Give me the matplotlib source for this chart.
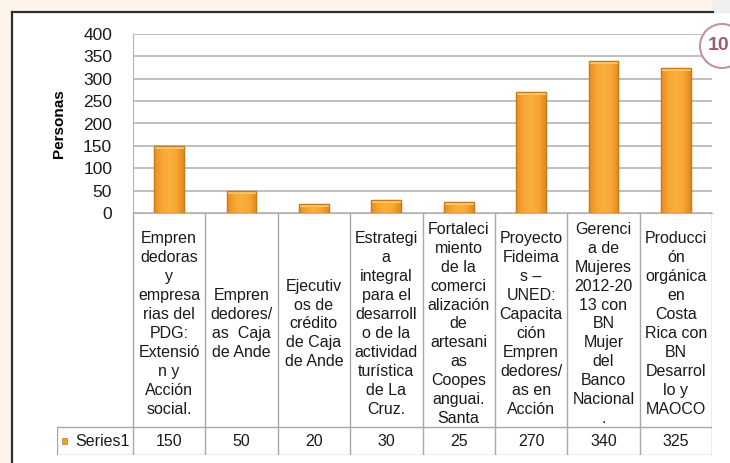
import numpy as np
import matplotlib
matplotlib.use("Agg")
import matplotlib.pyplot as plt
from matplotlib.colors import LinearSegmentedColormap
from matplotlib.patches import Rectangle, Circle

plt.rcParams['font.family'] = ['Liberation Sans', 'DejaVu Sans']

# data
categories = [
    "Empren\ndedoras\ny\nempresa\nrias del\nPDG:\nExtensió\nn y\nAcción\nsocial.",
    "Empren\ndedores/\nas  Caja\nde Ande",
    "Ejecutiv\nos de\ncrédito\nde Caja\nde Ande",
    "Estrategi\na\nintegral\npara el\ndesarroll\no de la\nactividad\nturística\nde La\nCruz.",
    "Fortaleci\nmiento\nde la\ncomerci\nalización\nde\nartesani\nas\nCoopes\nanguai.\nSanta",
    "Proyecto\nFideima\ns –\nUNED:\nCapacita\nción\nEmpren\ndedores/\nas en\nAcción",
    "Gerenci\na de\nMujeres\n2012-20\n13 con\nBN\nMujer\ndel\nBanco\nNacional\n.",
    "Producci\nón\norgánica\nen\nCosta\nRica con\nBN\nDesarrol\nlo y\nMAOCO",
]
values = [150, 50, 20, 30, 25, 270, 340, 325]
series_name = "Series1"
y_ticks = [0, 50, 100, 150, 200, 250, 300, 350, 400]
y_label = "Personas"
badge = "10"

W, H = 730, 463
fig = plt.figure(figsize=(W / 100, H / 100), dpi=100)
fig.patch.set_facecolor("white")

def fx(px):
    return px / W

def fy(py):
    return 1 - py / H

# page frame
cream = "#fdf4e9"
fig.add_artist(Rectangle((0, fy(12)), fx(713), 12 / H, transform=fig.transFigure, color=cream, zorder=0))
fig.add_artist(Rectangle((fx(713), fy(12)), 1, 12 / H, transform=fig.transFigure, color="#f1eef1", zorder=0))
fig.add_artist(Rectangle((0, 0), fx(12), fy(12), transform=fig.transFigure, color=cream, zorder=0))
fig.add_artist(plt.Line2D([fx(12), fx(713)], [fy(12), fy(12)], transform=fig.transFigure, color="#2e2e2e", lw=1.6))
fig.add_artist(plt.Line2D([fx(12), fx(12)], [fy(12), 0], transform=fig.transFigure, color="#2e2e2e", lw=1.6))

# chart area
left, right, top, bottom = 133, 712, 34, 213
ax = fig.add_axes([fx(left), fy(bottom), (right - left) / W, (bottom - top) / H])
n = len(values)
x = np.arange(n)
grid_c = "#b4b4b4"
ax.set_xlim(-0.5, n - 0.5)
ax.set_ylim(0, 400)
ax.set_yticks(y_ticks)
ax.yaxis.grid(True, color=grid_c, lw=1.2)
ax.set_axisbelow(True)
ax.set_xticks([])
for s in ["top", "right"]:
    ax.spines[s].set_visible(False)
ax.spines["left"].set_color(grid_c)
ax.spines["bottom"].set_color(grid_c)
ax.tick_params(axis="y", length=0, pad=15, labelsize=12.5, labelcolor="#1a1a1a")
ax.set_ylabel(y_label, fontsize=11, fontweight="bold", labelpad=12)

bars = ax.bar(x, values, width=0.41, color="#f5a232", edgecolor="#c67a20", lw=0.9, zorder=2)
cmap = LinearSegmentedColormap.from_list("bar", ["#e88e22", "#f7a634", "#fab040", "#f7a634", "#e3891f"])
grad = np.linspace(0, 1, 64).reshape(1, -1)
for b in bars:
    x0, w, h = b.get_x(), b.get_width(), b.get_height()
    im = ax.imshow(grad, cmap=cmap, extent=(x0, x0 + w, 0, h), aspect="auto", zorder=2.5)
    im.set_clip_path(b)
    cap = min(7, h * 0.3)
    ax.bar(b.get_x() + w / 2, cap, bottom=h - cap, width=w, color="#fcc862", lw=0, zorder=3)
    ax.add_patch(Rectangle((x0, 0), w, h, fill=False, edgecolor="#c67a20", lw=0.9, zorder=3.5))
ax.set_xlim(-0.5, n - 0.5)
ax.set_ylim(0, 400)

# data table below
t_left, t_bottom, row_mid = 57, 455, 427
unit = (right - left) / n
tax = fig.add_axes([fx(t_left), fy(t_bottom), (right - t_left) / W, (t_bottom - bottom) / H])
tax.set_xlim(-0.5 - (left - t_left) / unit, n - 0.5)
tax.set_ylim(t_bottom, bottom)
tax.axis("off")
line_c = "#a8a8a8"
x_first = -0.5 - (left - t_left) / unit
for i in range(n + 1):
    tax.plot([i - 0.5, i - 0.5], [bottom, t_bottom], color=line_c, lw=1)
tax.plot([x_first, n - 0.5], [row_mid, row_mid], color=line_c, lw=1)
tax.plot([x_first, n - 0.5], [t_bottom, t_bottom], color=line_c, lw=1)
tax.plot([x_first, x_first], [row_mid, t_bottom], color=line_c, lw=1)

for i, (c, v) in enumerate(zip(categories, values)):
    tax.text(i, (bottom + row_mid) / 2 + 4, c, ha="center", va="center", fontsize=11.5,
             linespacing=1.33, color="#1a1a1a")
    tax.text(i, (row_mid + t_bottom) / 2, str(v), ha="center", va="center", fontsize=11.5, color="#1a1a1a")

sq = 5 / unit
tax.add_patch(Rectangle((x_first + 5 / unit, (row_mid + t_bottom) / 2 - 3), sq, 6,
                        facecolor="#f0a030", edgecolor="#c67a20", lw=0.5))
tax.text(x_first + 18 / unit, (row_mid + t_bottom) / 2, series_name, ha="left", va="center",
         fontsize=11.5, color="#1a1a1a")

# page badge (pixel units via inches at 100 dpi)
fig.add_artist(Circle((7.22, (H - 46) / 100), 0.22, transform=fig.dpi_scale_trans, facecolor="white",
                      edgecolor="#c4949c", lw=1.5, zorder=5))
fig.text(fx(719), fy(46), badge, ha="center", va="center", fontsize=14, fontweight="bold",
         color="#9c5e64", zorder=6)

fig.savefig("out.png", dpi=100)
